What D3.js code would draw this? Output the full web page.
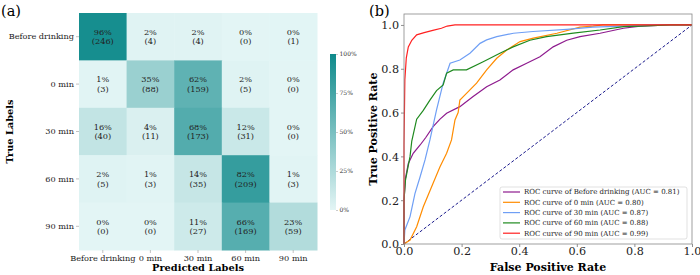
<!DOCTYPE html>
<html>
<head>
<meta charset="utf-8">
<script src="https://cdn.jsdelivr.net/npm/d3@7"></script>
<style>
  body { margin: 0; background: #fff; }
  svg { font-family: "DejaVu Serif", serif; display: block; }
</style>
</head>
<body>
<div id="chart"></div>
<script>
// confusion matrix data
const classes = ["Before drinking", "0 min", "30 min", "60 min", "90 min"];
const counts = [
    [246, 4, 4, 0, 1],
    [3, 88, 159, 5, 0],
    [40, 11, 173, 31, 0],
    [5, 3, 35, 209, 3],
    [0, 0, 27, 169, 59]
];
const cbarTicks = [0, 25, 50, 75, 100];

// ROC curves, [fpr, tpr]
const rocBefore = [[0,0],[0,0.2],[0.005,0.3],[0.015,0.368],[0.032,0.414],[0.056,0.452],[0.075,0.485],[0.101,0.536],[0.125,0.57],[0.148,0.597],[0.194,0.627],[0.24,0.673],[0.287,0.718],[0.333,0.749],[0.379,0.795],[0.426,0.825],[0.472,0.855],[0.518,0.9],[0.565,0.93],[0.611,0.947],[0.681,0.962],[0.762,0.985],[0.82,0.995],[0.924,1],[1,1]];
const roc0 = [[0,0],[0.021,0.018],[0.044,0.079],[0.067,0.17],[0.101,0.277],[0.125,0.353],[0.148,0.414],[0.165,0.475],[0.177,0.566],[0.188,0.6],[0.194,0.657],[0.217,0.688],[0.252,0.734],[0.287,0.795],[0.322,0.848],[0.357,0.886],[0.403,0.924],[0.449,0.94],[0.531,0.962],[0.611,0.99],[0.657,0.995],[0.691,1],[1,1]];
const roc30 = [[0,0],[0.003,0.064],[0.021,0.125],[0.038,0.23],[0.056,0.307],[0.073,0.384],[0.09,0.475],[0.113,0.612],[0.136,0.734],[0.16,0.825],[0.194,0.84],[0.229,0.871],[0.264,0.916],[0.287,0.932],[0.322,0.947],[0.38,0.962],[0.448,0.97],[0.565,0.98],[0.656,0.99],[0.76,0.995],[0.854,1],[1,1]];
const roc60 = [[0,0],[0,0.2],[0.005,0.29],[0.021,0.4],[0.027,0.47],[0.044,0.57],[0.067,0.61],[0.09,0.657],[0.113,0.7],[0.136,0.726],[0.148,0.78],[0.171,0.795],[0.217,0.795],[0.275,0.832],[0.333,0.871],[0.379,0.9],[0.437,0.93],[0.495,0.947],[0.588,0.963],[0.681,0.977],[0.762,0.992],[0.82,0.995],[0.924,1],[1,1]];
const roc90 = [[0,0],[0,0.45],[0.003,0.75],[0.008,0.85],[0.015,0.9],[0.027,0.93],[0.044,0.955],[0.07,0.965],[0.1,0.975],[0.13,0.985],[0.15,0.995],[0.177,1],[1,1]];
const rocNames = ["Before drinking", "0 min", "30 min", "60 min", "90 min"];
const rocAuc = [0.81, 0.80, 0.87, 0.88, 0.99];
const rocColors = ["#8e1b8e", "#ff8c00", "#6f9ff5", "#1f8a1f", "#ff2020"];
const xTicks = [0, 0.2, 0.4, 0.6, 0.8, 1.0];
const yTicks = [0, 0.2, 0.4, 0.6, 0.8, 1.0];

const svg = d3.select("#chart")
    .append("svg")
    .attr("width", 700)
    .attr("height", 275);

// ---------- (a) confusion matrix ----------
const hm = { left: 79, top: 13, width: 238, height: 237 };

const x = d3.scaleBand().domain(classes).range([hm.left, hm.left + hm.width]);
const y = d3.scaleBand().domain(classes).range([hm.top, hm.top + hm.height]);
const color = d3.scaleLinear().domain([0, 100]).range(["#e3f5f5", "#0f8a8b"]);

// one entry per cell, percentage = row-normalised
const cells = [];
counts.forEach((row, i) => {
    const total = d3.sum(row);
    row.forEach((c, j) => {
        cells.push({ t: classes[i], p: classes[j], n: c, frac: c / total * 100, pct: Math.round(c / total * 100) });
    });
});

const gHm = svg.append("g");
gHm.selectAll("rect")
    .data(cells)
    .join("rect")
    .attr("x", d => x(d.p))
    .attr("y", d => y(d.t))
    .attr("width", x.bandwidth() + 0.5)
    .attr("height", y.bandwidth() + 0.5)
    .attr("fill", d => color(d.frac));

const lbl = gHm.selectAll("text.cell")
    .data(cells)
    .join("text")
    .attr("class", "cell")
    .attr("text-anchor", "middle")
    .attr("font-size", "8.2px")
    .attr("fill", "#222");
lbl.append("tspan")
    .attr("x", d => x(d.p) + x.bandwidth() / 2)
    .attr("y", d => y(d.t) + y.bandwidth() / 2 - 1.8)
    .text(d => d.pct + "%");
lbl.append("tspan")
    .attr("x", d => x(d.p) + x.bandwidth() / 2)
    .attr("y", d => y(d.t) + y.bandwidth() / 2 + 7.6)
    .text(d => "(" + d.n + ")");

const axL = svg.append("g")
    .attr("transform", `translate(${hm.left},0)`)
    .call(d3.axisLeft(y).tickSize(3).tickPadding(2));
const axB = svg.append("g")
    .attr("transform", `translate(0,${hm.top + hm.height})`)
    .call(d3.axisBottom(x).tickSize(3).tickPadding(2));
[axL, axB].forEach(a => {
    a.select(".domain").remove();
    a.selectAll("line").attr("stroke", "#999").attr("stroke-width", 0.6);
    a.selectAll("text").attr("font-size", "8.2px").attr("fill", "#222").attr("font-family", "DejaVu Serif");
});

svg.append("text")
    .attr("x", hm.left + hm.width / 2).attr("y", 271)
    .attr("text-anchor", "middle")
    .attr("font-size", "9.8px").attr("font-weight", "bold")
    .text("Predicted Labels");
svg.append("text")
    .attr("transform", `translate(13,${hm.top + hm.height / 2}) rotate(-90)`)
    .attr("text-anchor", "middle")
    .attr("font-size", "9.8px").attr("font-weight", "bold")
    .text("True Labels");
svg.append("text")
    .attr("x", 1).attr("y", 16)
    .attr("font-size", "14.5px")
    .text("(a)");

// colorbar
const cb = { left: 330, top: 54, width: 6, height: 156 };
const defs = svg.append("defs");
const grad = defs.append("linearGradient")
    .attr("id", "cbgrad").attr("x1", 0).attr("y1", 1).attr("x2", 0).attr("y2", 0);
grad.append("stop").attr("offset", "0%").attr("stop-color", color(0));
grad.append("stop").attr("offset", "100%").attr("stop-color", color(100));
svg.append("rect")
    .attr("x", cb.left).attr("y", cb.top)
    .attr("width", cb.width).attr("height", cb.height)
    .attr("fill", "url(#cbgrad)");
const cbScale = d3.scaleLinear().domain([0, 100]).range([cb.top + cb.height, cb.top]);
const axC = svg.append("g")
    .attr("transform", `translate(${cb.left + cb.width},0)`)
    .call(d3.axisRight(cbScale).tickValues(cbarTicks).tickFormat(d => d + "%").tickSize(2).tickPadding(1.5));
axC.select(".domain").remove();
axC.selectAll("line").attr("stroke", "#999").attr("stroke-width", 0.5);
axC.selectAll("text").attr("font-size", "6px").attr("fill", "#333").attr("font-family", "DejaVu Serif");

// ---------- (b) ROC ----------
const roc = { left: 404, top: 14, width: 288, height: 230 };
const xr = d3.scaleLinear().domain([0, 1]).range([roc.left, roc.left + roc.width]);
const yr = d3.scaleLinear().domain([0, 1.05]).range([roc.top + roc.height, roc.top]);

const gRoc = svg.append("g");
const axX = gRoc.append("g")
    .attr("transform", `translate(0,${roc.top + roc.height})`)
    .call(d3.axisBottom(xr).tickValues(xTicks).tickFormat(d3.format(".1f")).tickSize(3).tickPadding(0));
const axY = gRoc.append("g")
    .attr("transform", `translate(${roc.left},0)`)
    .call(d3.axisLeft(yr).tickValues(yTicks).tickFormat(d3.format(".1f")).tickSize(3).tickPadding(2));
[axX, axY].forEach(a => {
    a.select(".domain").remove();
    a.selectAll("line").attr("stroke", "#444").attr("stroke-width", 0.6);
    a.selectAll("text").attr("font-size", "11.2px").attr("fill", "#222").attr("font-family", "DejaVu Serif");
});
axY.selectAll("text").attr("dy", "0.35em");

// diagonal
gRoc.append("path")
    .attr("d", d3.line().x(d => xr(d[0])).y(d => yr(d[1]))([[0, 0], [1, 1]]))
    .attr("fill", "none")
    .attr("stroke", "#1a1a8c")
    .attr("stroke-width", 1)
    .attr("stroke-dasharray", "3,2");

const line = d3.line().x(d => xr(d[0])).y(d => yr(d[1]));
const rocData = [rocBefore, roc0, roc30, roc60, roc90];
gRoc.selectAll("path.roc")
    .data(rocData)
    .join("path")
    .attr("class", "roc")
    .attr("d", line)
    .attr("fill", "none")
    .attr("stroke", (d, i) => rocColors[i])
    .attr("stroke-width", 1.2);

// frame
gRoc.append("rect")
    .attr("x", roc.left).attr("y", roc.top)
    .attr("width", roc.width).attr("height", roc.height)
    .attr("fill", "none")
    .attr("stroke", "#888")
    .attr("stroke-width", 0.8);

// legend
const lg = gRoc.append("g").attr("transform", "translate(500,187)");
lg.append("rect")
    .attr("width", 187).attr("height", 52)
    .attr("rx", 2)
    .attr("fill", "#fff").attr("fill-opacity", 0.85)
    .attr("stroke", "#ccc").attr("stroke-width", 0.6);
rocNames.forEach((n, i) => {
    const yy = 5 + i * 10.3;
    lg.append("line")
        .attr("x1", 3).attr("x2", 20).attr("y1", yy).attr("y2", yy)
        .attr("stroke", rocColors[i]).attr("stroke-width", 1.2);
    lg.append("text")
        .attr("x", 24).attr("y", yy).attr("dy", "0.35em")
        .attr("font-size", "7px").attr("fill", "#222")
        .text(`ROC curve of ${n} (AUC = ${rocAuc[i].toFixed(2)})`);
});

svg.append("text")
    .attr("x", roc.left + roc.width / 2).attr("y", 271)
    .attr("text-anchor", "middle")
    .attr("font-size", "11px").attr("font-weight", "bold")
    .text("False Positive Rate");
svg.append("text")
    .attr("transform", `translate(377,${roc.top + roc.height / 2}) rotate(-90)`)
    .attr("text-anchor", "middle")
    .attr("font-size", "11px").attr("font-weight", "bold")
    .text("True Positive Rate");
svg.append("text")
    .attr("x", 369).attr("y", 16)
    .attr("font-size", "14.5px")
    .text("(b)");
</script>
</body>
</html>
